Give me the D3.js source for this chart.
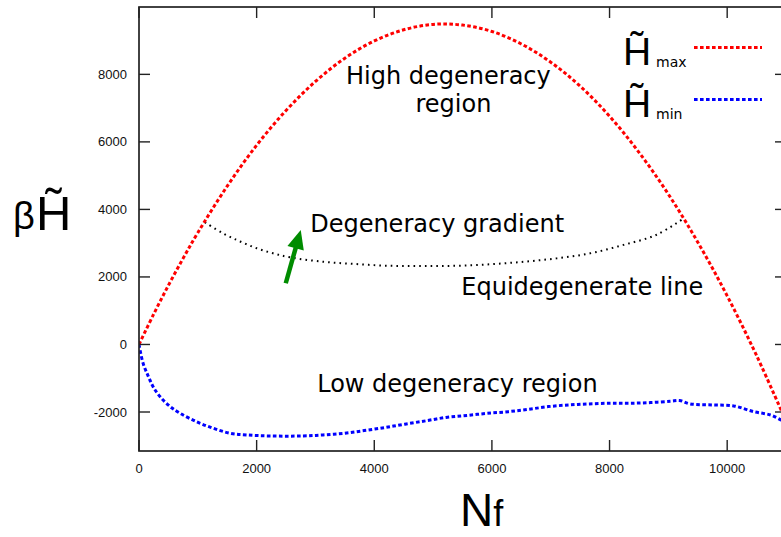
<!DOCTYPE html>
<html>
<head>
<meta charset="utf-8">
<script src="https://cdn.jsdelivr.net/npm/d3@7"></script>
<style>
  html, body { margin: 0; padding: 0; background: #fff; overflow: hidden; }
  svg { display: block; }
</style>
</head>
<body>
<svg id="chart" width="781" height="537"></svg>
<script>
// Upper bound of the entropy-like quantity vs number of free sites
const nfMax = [0, 250, 500, 750, 1000, 1500, 2000, 2500, 3000, 3500, 4000, 4500, 5000, 5500, 6000, 6500, 7000, 7500, 8000, 8500, 9000, 9500, 10000, 10500, 11000];
const hMax  = [0, 900, 1750, 2550, 3310, 4690, 5900, 6930, 7790, 8480, 8990, 9320, 9480, 9460, 9270, 8900, 8360, 7650, 6760, 5690, 4450, 3030, 1440, -330, -2270];

// Lower bound
const nfMin = [0, 70, 160, 240, 360, 530, 700, 980, 1260, 1550, 1830, 2230, 2790, 3130, 3490, 3830, 4180, 4520, 4880, 5220, 5580, 5920, 6280, 6620, 6960, 7310, 7650, 8010, 8350, 8700, 9040, 9190, 9370, 9750, 10110, 10450, 10740, 10920, 11000];
const hMin  = [0, -560, -950, -1250, -1550, -1840, -2040, -2290, -2480, -2630, -2680, -2710, -2710, -2680, -2630, -2550, -2460, -2360, -2260, -2160, -2100, -2040, -1990, -1920, -1840, -1790, -1760, -1740, -1740, -1720, -1680, -1660, -1760, -1790, -1820, -1990, -2090, -2240, -2300];

// Equidegenerate line between the two bounds
const nfEq = [1120, 1430, 1720, 2000, 2280, 2570, 3130, 3700, 4270, 4840, 5400, 5970, 6540, 7100, 7670, 8240, 8800, 9250];
const hEq  = [3620, 3290, 3050, 2850, 2700, 2580, 2450, 2380, 2330, 2325, 2330, 2375, 2450, 2550, 2700, 2950, 3250, 3720];

const xTicks = [0, 2000, 4000, 6000, 8000, 10000];
const yTicks = [-2000, 0, 2000, 4000, 6000, 8000];

// Region labels (data coordinates of the text start, baseline)
const labelText = ["High degeneracy", "region", "Degeneracy gradient", "Equidegenerate line", "Low degeneracy region"];
const labelNf   = [3520, 4700, 2910, 5480, 3030];
const labelH    = [7710, 6890, 3330, 1460, -1400];

// Gradient arrow: tail and head
const arrowNf = [2495, 2750];
const arrowH  = [1813, 3392];

const svg = d3.select("#chart");
const W = 781, H = 537;
const mLeft = 139, mRight = 786, mTop = 7, mBottom = 451;

const x = d3.scaleLinear().domain([0, 11000]).range([mLeft, mRight]);
const y = d3.scaleLinear().domain([-3155, 9995]).range([mBottom, mTop]);

svg.append("rect").attr("width", W).attr("height", H).attr("fill", "#fff");

svg.append("defs").append("clipPath").attr("id", "plotclip")
  .append("rect").attr("x", mLeft).attr("y", mTop)
  .attr("width", mRight - mLeft).attr("height", mBottom - mTop);

const plot = svg.append("g").attr("clip-path", "url(#plotclip)");

const smooth = d3.line().x(d => x(d[0])).y(d => y(d[1])).curve(d3.curveCatmullRom.alpha(0.5));

plot.append("path")
  .attr("d", smooth(d3.zip(nfEq, hEq)))
  .attr("fill", "none").attr("stroke", "#000")
  .attr("stroke-width", 2).attr("stroke-dasharray", "1.6,4.1");

plot.append("path")
  .attr("d", smooth(d3.zip(nfMax, hMax)))
  .attr("fill", "none").attr("stroke", "#ff0000")
  .attr("stroke-width", 3).attr("stroke-dasharray", "3.6,2.4");

plot.append("path")
  .attr("d", smooth(d3.zip(nfMin, hMin)))
  .attr("fill", "none").attr("stroke", "#0000ff")
  .attr("stroke-width", 3).attr("stroke-dasharray", "3.6,2.4");

// Frame and mirrored ticks
const axisColor = "#222";
svg.append("rect")
  .attr("x", mLeft).attr("y", mTop).attr("width", mRight - mLeft).attr("height", mBottom - mTop)
  .attr("fill", "none").attr("stroke", axisColor).attr("stroke-width", 1.7);

const tickLen = 11;
const ticks = svg.append("g").attr("stroke", axisColor).attr("stroke-width", 1.4);
yTicks.forEach(v => {
  ticks.append("line").attr("x1", mLeft).attr("x2", mLeft + tickLen).attr("y1", y(v)).attr("y2", y(v));
  ticks.append("line").attr("x1", mRight - tickLen).attr("x2", mRight).attr("y1", y(v)).attr("y2", y(v));
});
xTicks.forEach(v => {
  ticks.append("line").attr("x1", x(v)).attr("x2", x(v)).attr("y1", mBottom).attr("y2", mBottom - tickLen);
  ticks.append("line").attr("x1", x(v)).attr("x2", x(v)).attr("y1", mTop).attr("y2", mTop + tickLen);
});

const tickFont = "'Liberation Sans', Arial, sans-serif";
svg.append("g").selectAll("text").data(yTicks).join("text")
  .attr("x", mLeft - 12).attr("y", d => y(d)).attr("dy", "0.35em")
  .attr("text-anchor", "end").attr("font-family", tickFont).attr("font-size", 13)
  .attr("fill", "#111").text(d => d);

svg.append("g").selectAll("text").data(xTicks).join("text")
  .attr("x", d => x(d)).attr("y", 473)
  .attr("text-anchor", "middle").attr("font-family", tickFont).attr("font-size", 13)
  .attr("fill", "#111").text(d => d);

// Region annotations
const labFont = "'DejaVu Sans', sans-serif";
svg.append("g").selectAll("text").data(labelText).join("text")
  .attr("x", (d, i) => x(labelNf[i])).attr("y", (d, i) => y(labelH[i]))
  .attr("font-family", labFont).attr("font-size", 24).attr("fill", "#000")
  .text(d => d);

// Green gradient arrow
(function () {
  const x0 = x(arrowNf[0]), y0 = y(arrowH[0]);
  const x1 = x(arrowNf[1]), y1 = y(arrowH[1]);
  const dx = x1 - x0, dy = y1 - y0, len = Math.hypot(dx, dy);
  const ux = dx / len, uy = dy / len, px = -uy, py = ux;
  const headL = 19, headW = 8.5;
  const bx = x1 - ux * headL, by = y1 - uy * headL;
  svg.append("line")
    .attr("x1", x0).attr("y1", y0).attr("x2", bx + ux * 2).attr("y2", by + uy * 2)
    .attr("stroke", "#008c00").attr("stroke-width", 4.5);
  svg.append("path")
    .attr("d", `M${x1},${y1}L${bx + px * headW},${by + py * headW}L${bx - px * headW},${by - py * headW}Z`)
    .attr("fill", "#008c00");
})();

// Axis titles: H with a combining tilde
const titleFont = "'Liberation Sans', Arial, sans-serif";
const yl = svg.append("text").attr("font-family", titleFont).attr("fill", "#000");
yl.append("tspan").attr("x", 13).attr("y", 229).attr("font-size", 38).text("β");
yl.append("tspan").attr("x", 36).attr("y", 230).attr("font-size", 49).text("H\u0303");

const xl = svg.append("text").attr("x", 460).attr("y", 526)
  .attr("font-family", titleFont);
xl.append("tspan").attr("font-size", 46).text("N");
xl.append("tspan").attr("font-size", 36).text("f");

// Key
const keyItems = [
  { sub: "max", color: "#ff0000", base: 65 },
  { sub: "min", color: "#0000ff", base: 117 }
];
const key = svg.append("g");
keyItems.forEach(k => {
  const t = key.append("text").attr("font-family", titleFont).attr("fill", "#000");
  t.append("tspan").attr("x", 623).attr("y", k.base).attr("font-size", 39).text("H\u0303");
  t.append("tspan").attr("x", 656).attr("y", k.base + 2)
    .attr("font-family", labFont).attr("font-size", 14).text(k.sub);
  key.append("line").attr("x1", 694).attr("x2", 762)
    .attr("y1", k.base - 17.5).attr("y2", k.base - 17.5)
    .attr("stroke", k.color).attr("stroke-width", 3).attr("stroke-dasharray", "3.6,2.4");
});
</script>
</body>
</html>
